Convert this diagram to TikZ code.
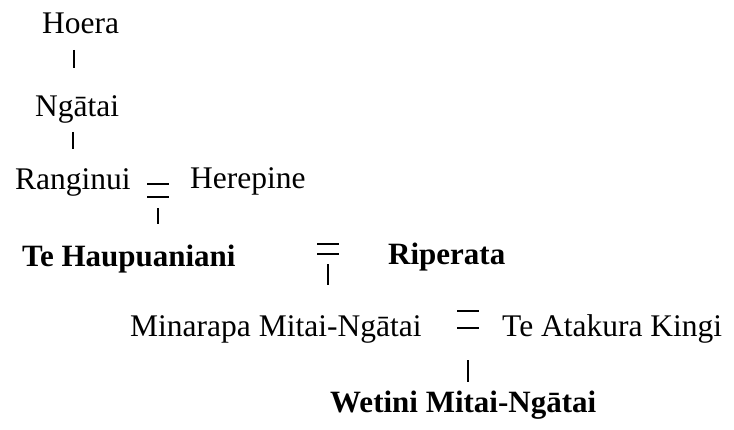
\documentclass[tikz,border=0pt]{standalone}
\usepackage{fontspec}
\setmainfont{Liberation Serif}
\usepackage{tikz}
\tikzset{
  person/.style={anchor=base west, inner sep=0pt, font=\fontsize{31.5}{36}\selectfont},
  chief/.style={person, font=\fontsize{31}{36}\selectfont\bfseries},
  wed/.style={inner sep=0pt, minimum width=21pt},
  tie/.style={line width=1.8pt}
}
\begin{document}
\begin{tikzpicture}[x=1pt, y=-1pt]
  \useasboundingbox (0,0) rectangle (734,430);
  % people
  \node[person] (hoera)    at (42,34)   {Hoera};
  \node[person] (ngatai)   at (35,117)  {Ngātai};
  \node[person] (ranginui) at (15,190)  {Ranginui};
  \node[person] (herepine) at (190,189) {Herepine};
  \node[chief]  (haupu)    at (22,267)  {Te Haupuaniani};
  \node[chief]  (riperata) at (388,265) {Riperata};
  \node[person] (minarapa) at (130,337) {Minarapa Mitai-Ngātai};
  \node[person] (atakura)  at (502,337) {Te Atakura Kingi};
  \node[chief]  (wetini)   at (330,413) {Wetini Mitai-Ngātai};
  % marriages
  \node[wed, minimum height=13pt] (w1) at (158,190.5) {};
  \node[wed, minimum height=10pt] (w2) at (328,249)   {};
  \node[wed, minimum height=17pt] (w3) at (468,319.5) {};
  \foreach \w in {w1,w2,w3}
    \draw[tie] (\w.north west) -- (\w.north east) (\w.south west) -- (\w.south east);
  % descent
  \coordinate (d1) at (74,50);
  \coordinate (d2) at (73,132);
  \draw[tie] (d1) -- ++(0,18);
  \draw[tie] (d2) -- ++(0,17);
  \draw[tie] ([yshift=-11pt]w1.south) -- ++(0,16);
  \draw[tie] ([yshift=-10pt]w2.south) -- ++(0,21);
  \draw[tie] ([yshift=-32pt]w3.south) -- ++(0,22);
\end{tikzpicture}
\end{document}
